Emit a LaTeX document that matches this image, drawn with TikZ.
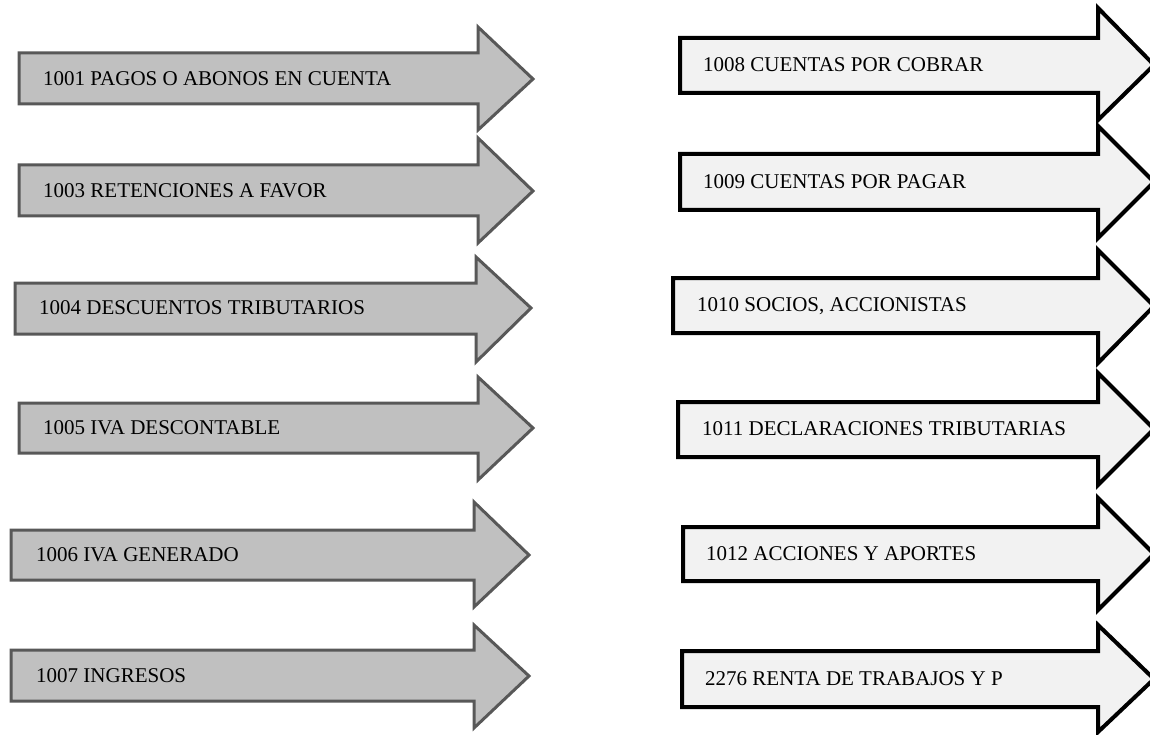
\documentclass[tikz,border=0pt]{standalone}
\usepackage{fontspec}
\setmainfont{Liberation Serif}
\usepackage{tikz}
\usepackage{color}

\definecolor{leftfill}{RGB}{192,192,192}
\definecolor{leftline}{RGB}{88,88,88}
\definecolor{rightfill}{RGB}{242,242,242}

\tikzset{
  grayarrow/.style={draw=leftline, fill=leftfill, line width=3pt, line join=miter},
  whitearrow/.style={draw=black, fill=rightfill, line width=4pt, line join=miter},
  conlbl/.style={anchor=west, inner sep=0pt, font=\fontsize{21}{25}\selectfont},
}

\begin{document}
\begin{tikzpicture}[x=1pt,y=-1pt]
\useasboundingbox (0,0) rectangle (1150,735);
\clip (0,0) rectangle (1150,735);

\draw[grayarrow] (19,53) -- (478,53) -- (478,27) -- (533,79) -- (478,130) -- (478,104) -- (19,104) -- cycle;
\draw[grayarrow] (19,165) -- (478,165) -- (478,138) -- (533,191) -- (478,243) -- (478,216) -- (19,216) -- cycle;
\draw[grayarrow] (15,283) -- (476,283) -- (476,257) -- (531,308) -- (476,362) -- (476,334) -- (15,334) -- cycle;
\draw[grayarrow] (19,403) -- (478,403) -- (478,377) -- (533,428) -- (478,480) -- (478,453) -- (19,453) -- cycle;
\draw[grayarrow] (11,530) -- (474,530) -- (474,502) -- (529,555) -- (474,607) -- (474,580) -- (11,580) -- cycle;
\draw[grayarrow] (11,650) -- (474,650) -- (474,625) -- (529,676) -- (474,728) -- (474,701) -- (11,701) -- cycle;

\draw[whitearrow] (680,38) -- (1098,38) -- (1098,8) -- (1154,65) -- (1098,120) -- (1098,93) -- (680,93) -- cycle;
\draw[whitearrow] (680,154) -- (1098,154) -- (1098,126) -- (1154,182) -- (1098,238) -- (1098,210) -- (680,210) -- cycle;
\draw[whitearrow] (673,278) -- (1098,278) -- (1098,250) -- (1154,306) -- (1098,363) -- (1098,333) -- (673,333) -- cycle;
\draw[whitearrow] (678,402) -- (1098,402) -- (1098,373) -- (1154,429) -- (1098,485) -- (1098,457) -- (678,457) -- cycle;
\draw[whitearrow] (683,527) -- (1098,527) -- (1098,498) -- (1154,554) -- (1098,610) -- (1098,581) -- (683,581) -- cycle;
\draw[whitearrow] (682,651) -- (1098,651) -- (1098,625) -- (1154,679) -- (1098,732) -- (1098,707) -- (682,707) -- cycle;

%codes on the left
\node[conlbl] (c1001) at (43,79) {1001 PAGOS O ABONOS EN CUENTA};
\node[conlbl] (c1003) at (43,191) {1003 RETENCIONES A FAVOR};
\node[conlbl] (c1004) at (39,308) {1004 DESCUENTOS TRIBUTARIOS};
\node[conlbl] (c1005) at (43,428) {1005 IVA DESCONTABLE};
\node[conlbl] (c1006) at (36,555) {1006 IVA GENERADO};
\node[conlbl] (c1007) at (36,676) {1007 INGRESOS};
%codes on the right
\node[conlbl] (c1008) at (703,65) {1008 CUENTAS POR COBRAR};
\node[conlbl] (c1009) at (703,182) {1009 CUENTAS POR PAGAR};
\node[conlbl] (c1010) at (697,306) {1010 SOCIOS, ACCIONISTAS};
\node[conlbl] (c1011) at (702,429) {1011 DECLARACIONES TRIBUTARIAS};
\node[conlbl] (c1012) at (706,554) {1012 ACCIONES Y APORTES};
\node[conlbl] (c2276) at (705,679) {2276 RENTA DE TRABAJOS Y P};
\end{tikzpicture}
\end{document}
